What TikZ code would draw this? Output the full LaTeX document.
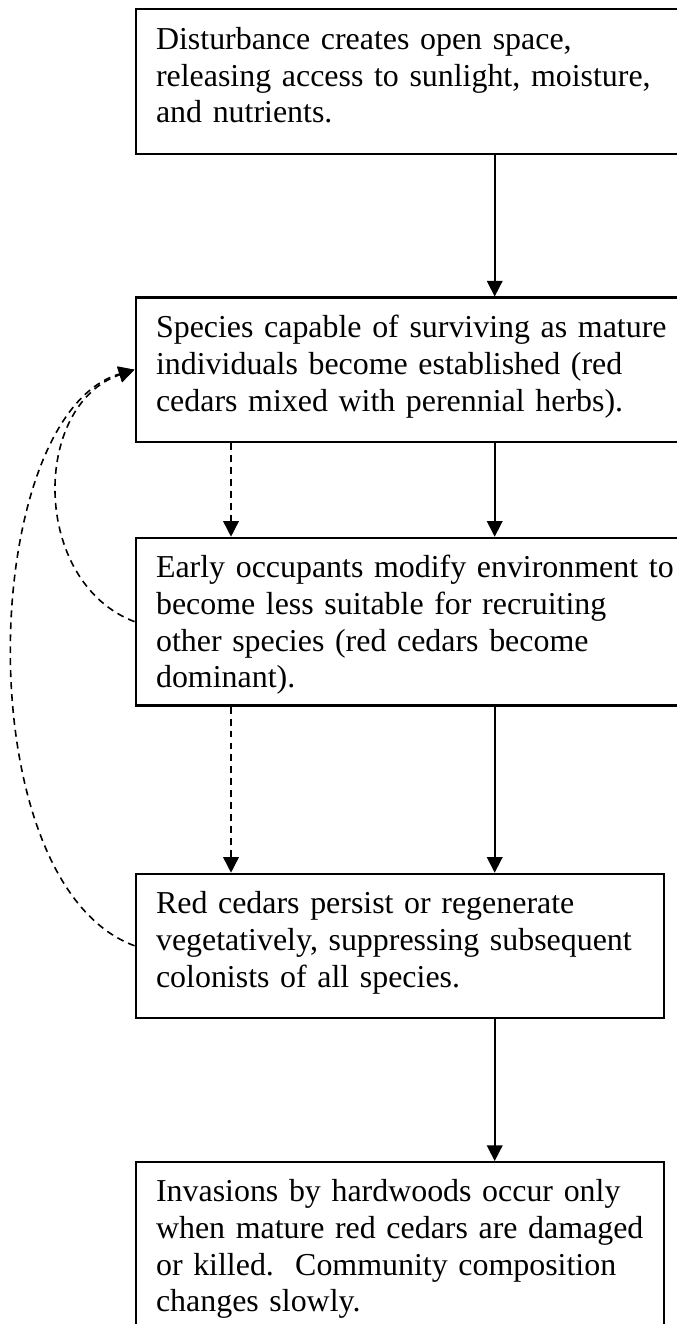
\documentclass[tikz,border=0pt]{standalone}
\usepackage{fontspec}
\setmainfont{Liberation Serif}
\usetikzlibrary{arrows.meta}
\begin{document}
\begin{tikzpicture}[x=0.376pt, y=-0.376pt,
  flowbox/.style={draw, line width=0.8pt, anchor=north west,
    inner xsep=7.71pt, inner ysep=0pt, align=left,
    font=\fontsize{12pt}{13.8pt}\selectfont},
  widebox/.style={flowbox, text width=197.2pt},
  narrowbox/.style={flowbox, text width=183.4pt},
  conn/.style={line width=0.6pt, -{Triangle[length=5.9pt, width=5.9pt]}},
  dashconn/.style={conn, dash pattern=on 2.6pt off 1.9pt}]
\useasboundingbox[fill=white] (0,0) rectangle (676,1324);
\frenchspacing
\node[widebox, text height=15.04pt, text depth=39.25pt] (b1) at (134.5,8.3)
  {Disturbance creates open space,\\ releasing access to sunlight, moisture,\\ and nutrients.};
\node[widebox, text height=15.12pt, text depth=39.1pt] (b2) at (134.5,296.5)
  {Species capable of surviving as mature\\ individuals become established (red\\ cedars mixed with perennial herbs).};
\node[widebox, text height=15.04pt, text depth=48.05pt] (b3) at (134.5,536.7)
  {Early occupants modify environment to\\ become less suitable for recruiting\\ other species (red cedars become\\ dominant).};
\node[narrowbox, text height=15.04pt, text depth=39.1pt] (b4) at (134.5,872.7)
  {Red cedars persist or regenerate\\ vegetatively, suppressing subsequent\\ colonists of all species.};
\node[narrowbox, text height=14.93pt, text depth=52.4pt] (b5) at (134.5,1161)
  {Invasions by hardwoods occur only\\ when mature red cedars are damaged\\ or killed.\ \ Community composition\\ changes slowly.};
\coordinate (sx) at (494.7,0);
\coordinate (dx) at (231,0);
\draw[conn] (b1.south -| sx) -- (b2.north -| sx);
\draw[conn] (b2.south -| sx) -- (b3.north -| sx);
\draw[conn] (b3.south -| sx) -- (b4.north -| sx);
\draw[conn] (b4.south -| sx) -- (b5.north -| sx);
\draw[dashconn] (b2.south -| dx) -- (b3.north -| dx);
\draw[dashconn] (b3.south -| dx) -- (b4.north -| dx);
\draw[dashconn] (b3.west) .. controls +(-103.5,-39.6) and +(-103.5,35.4) .. (b2.west);
\draw[dashconn] (b4.west) .. controls +(-169.8,-62.7) and +(-156.5,45.4) .. (b2.west);
\end{tikzpicture}
\end{document}
